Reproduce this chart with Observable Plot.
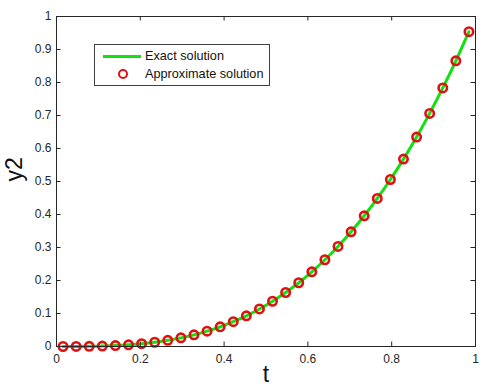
<!DOCTYPE html>
<html>
<head>
<meta charset="utf-8">
<script src="https://cdn.jsdelivr.net/npm/d3@7"></script>
<script src="https://cdn.jsdelivr.net/npm/@observablehq/plot@0.6"></script>
<style>
  html, body { margin: 0; padding: 0; background: #fff; }
  #wrap { position: relative; width: 488px; height: 391px; font-family: "Liberation Sans", Arial, sans-serif; }
  #legend { position: absolute; left: 94px; top: 44px; width: 174px; height: 40px; border: 1px solid #404040; background: #fff; font-size: 12.7px; color: #111; }
  .row { position: absolute; left: 0; height: 18px; display: flex; align-items: center; }
  .sym { width: 50px; position: relative; height: 18px; }
  .line { position: absolute; left: 8px; width: 38px; top: 8px; height: 3px; background: #11e011; }
  .circ { position: absolute; left: 23px; top: 4px; width: 6px; height: 6px; border: 2.6px solid #e01010; border-radius: 50%; }
</style>
</head>
<body>
<div id="wrap">
  <div id="chart"></div>
  <div id="legend">
    <div class="row" style="top:2px"><div class="sym"><div class="line"></div></div><span>Exact solution</span></div>
    <div class="row" style="top:20px"><div class="sym"><div class="circ"></div></div><span>Approximate solution</span></div>
  </div>
</div>
<script>
const tValues = [0.0156,0.0469,0.0781,0.1094,0.1406,0.1719,0.2031,0.2344,0.2656,0.2969,0.3281,0.3594,0.3906,0.4219,0.4531,0.4844,0.5156,0.5469,0.5781,0.6094,0.6406,0.6719,0.7031,0.7344,0.7656,0.7969,0.8281,0.8594,0.8906,0.9219,0.9531,0.9844];
const exactY = [0.0000,0.0001,0.0005,0.0013,0.0028,0.0051,0.0084,0.0129,0.0187,0.0262,0.0353,0.0464,0.0596,0.0751,0.0930,0.1137,0.1371,0.1636,0.1932,0.2263,0.2629,0.3033,0.3476,0.3961,0.4488,0.5061,0.5679,0.6347,0.7064,0.7835,0.8658,0.9539];
const approxY = [0.0000,0.0001,0.0005,0.0013,0.0028,0.0051,0.0084,0.0129,0.0187,0.0262,0.0353,0.0464,0.0596,0.0751,0.0930,0.1137,0.1371,0.1636,0.1932,0.2263,0.2629,0.3033,0.3476,0.3961,0.4488,0.5061,0.5679,0.6347,0.7064,0.7835,0.8658,0.9539];
const xTicks = [0, 0.2, 0.4, 0.6, 0.8, 1];
const yTicks = [0, 0.1, 0.2, 0.3, 0.4, 0.5, 0.6, 0.7, 0.8, 0.9, 1];
const xLabel = "t";
const yLabel = "y2";

const exact = tValues.map((t, i) => ({t, y: exactY[i]}));
const approx = tValues.map((t, i) => ({t, y: approxY[i]}));

const W = 488, H = 391, mL = 56, mR = 13, mT = 16, mB = 45;
const innerW = W - mL - mR, innerH = H - mT - mB;
const tick = 4.5;
const ink = "#262626";

const chart = Plot.plot({
  width: W, height: H,
  marginLeft: mL, marginRight: mR, marginTop: mT, marginBottom: mB,
  style: {fontFamily: "'Liberation Sans', Arial, sans-serif", fontSize: "12px", color: ink, background: "#fff"},
  x: {domain: [0, 1]},
  y: {domain: [0, 1]},
  marks: [
    Plot.line(exact, {x: "t", y: "y", stroke: "#11e011", strokeWidth: 3, curve: "catmull-rom"}),
    Plot.dot(approx, {x: "t", y: "y", r: 4.2, stroke: "#e01010", strokeWidth: 2.6, fill: "none"}),
    Plot.tickY(yTicks, {y: d => d, insetRight: innerW - tick, stroke: ink}),
    Plot.tickY(yTicks, {y: d => d, insetLeft: innerW - tick, stroke: ink}),
    Plot.tickX(xTicks, {x: d => d, insetTop: innerH - tick, stroke: ink}),
    Plot.tickX(xTicks, {x: d => d, insetBottom: innerH - tick, stroke: ink}),
    Plot.axisY({ticks: yTicks, tickSize: 0, tickPadding: 5, label: null, tickFormat: d => String(d), fill: ink}),
    Plot.axisX({ticks: xTicks, tickSize: 0, tickPadding: 8, label: null, tickFormat: d => String(d), fill: ink}),
    Plot.frame({stroke: ink, strokeWidth: 1}),
    Plot.text([xLabel], {text: d => d, frameAnchor: "bottom", dy: 35, fontSize: 23, fill: "#111"}),
    Plot.text([yLabel], {text: d => d, frameAnchor: "left", dx: -42, rotate: -90, fontSize: 23, fill: "#111"})
  ]
});
document.getElementById("chart").appendChild(chart);
</script>
</body>
</html>
